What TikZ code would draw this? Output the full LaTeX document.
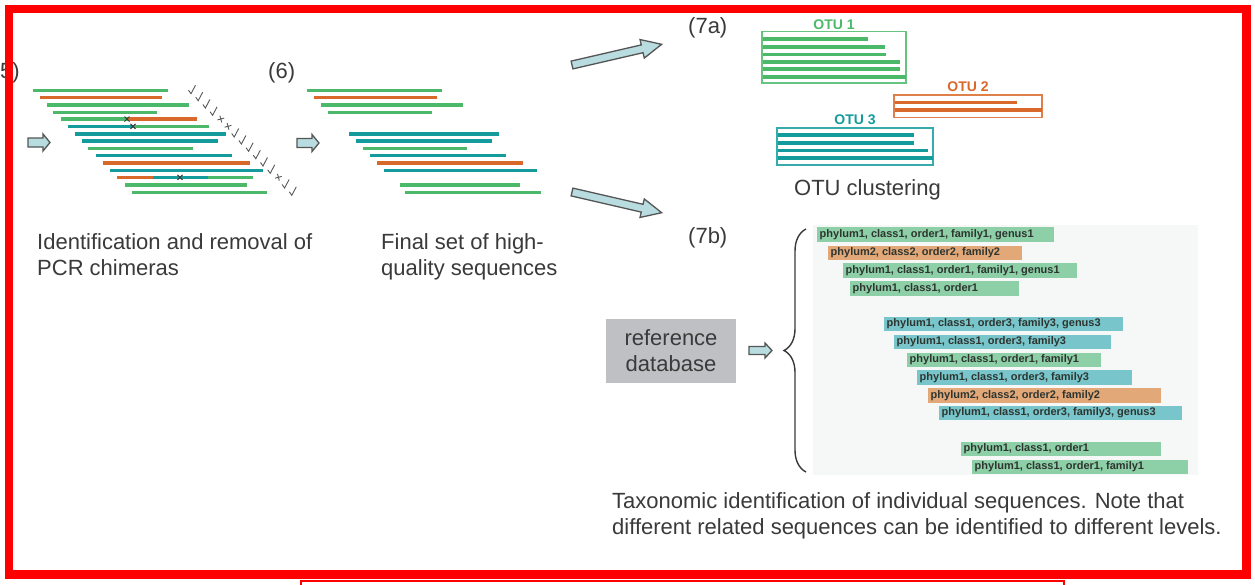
\documentclass[tikz,border=0pt]{standalone}
\usepackage{fontspec}
\setmainfont{Liberation Sans}
\usetikzlibrary{decorations.pathreplacing}
\definecolor{sg}{HTML}{4CB96A}
\definecolor{so}{HTML}{D9692A}
\definecolor{st}{HTML}{149C9C}
\definecolor{bg}{HTML}{8DCFA6}
\definecolor{bo}{HTML}{E3A878}
\definecolor{bt}{HTML}{78C6CB}
\definecolor{ink}{HTML}{3A3A3A}
\definecolor{barink}{HTML}{2E3530}
\definecolor{arrfill}{HTML}{B8DCE0}
\definecolor{arrline}{HTML}{555555}
\definecolor{dbgray}{HTML}{BFC0C4}
\definecolor{panel}{HTML}{F6F8F8}
\newcommand\taxbar[6]{\fill[#2] (#3,#5) rectangle (#4,#5+14.5);
  \node[bartext] (#1) at (#3+2.5,#5+7.4) {#6};}
\begin{document}
\begin{tikzpicture}[x=1pt,y=-1pt,
  txt/.style={font=\fontsize{22}{26}\selectfont, text=ink, inner sep=0pt},
  seq/.style={line width=3.2pt},
  chk/.style={draw=ink!85, line width=0.9pt},
  xm/.style={draw=ink, line width=1pt},
  arrowsty/.style={draw=arrline, fill=arrfill, line width=1.3pt, line join=miter},
  bartext/.style={anchor=west, inner sep=0pt, font=\bfseries\fontsize{11}{13}\selectfont, text=barink},
  otulab/.style={font=\bfseries\fontsize{14}{16}\selectfont, inner sep=0pt},
  otubox/.style={line width=1.5pt},
  otuline/.style={line width=3.6pt},
  pics/barrow/.style n args={4}{code={
    \draw[arrowsty] (0,-#1) -- ({#3-#4},-#1) -- ({#3-#4},-#2) -- (#3,0) -- ({#3-#4},#2) -- ({#3-#4},#1) -- (0,#1) -- cycle;}}
]
\useasboundingbox (0,0) rectangle (1255,584);
\fill[white] (0,0) rectangle (1255,584);

% ---------- (5) chimera removal ----------
\node[txt, anchor=base east] (l5) at (20,78) {(5)};
\pic at (28,142.5) {barrow={4.5}{8.5}{22}{7}};
\draw[seq, sg] (33,90.7) -- (168,90.7);
\draw[seq, so] (40,97.7) -- (162,97.7);
\draw[seq, sg] (47,105) -- (189,105);
\draw[seq, sg] (53,112.3) -- (157,112.3);
\draw[seq, sg] (61,119) -- (127,119);
\draw[seq, so] (127,119) -- (197,119);
\draw[seq, st] (68,126.3) -- (133,126.3);
\draw[seq, sg] (133,126.3) -- (209,126.3);
\draw[seq, st] (75,134) -- (226,134);
\draw[seq, st] (82,141) -- (218,141);
\draw[seq, sg] (88,148.3) -- (193,148.3);
\draw[seq, st] (96,155.7) -- (232,155.7);
\draw[seq, so] (103,163) -- (250,163);
\draw[seq, st] (110,170.3) -- (263,170.3);
\draw[seq, so] (117,177.3) -- (153,177.3);
\draw[seq, st] (153,177.3) -- (208,177.3);
\draw[seq, sg] (208,177.3) -- (253,177.3);
\draw[seq, sg] (125,185) -- (247,185);
\draw[seq, sg] (132,192.3) -- (267,192.3);
\foreach \p in {(127,119),(133,126.3),(180,177.3)}
  \draw[xm, shift={\p}] (-2.5,-2.5) -- (2.5,2.5) (-2.5,2.5) -- (2.5,-2.5);
\foreach \i/\y in {1/90.7,2/97.7,3/105,4/112.3,7/134,8/141,9/148.3,10/155.7,11/163,12/170.3,14/185,15/192.3}{
  \pgfmathsetmacro\xx{192+(\i-1)*7.2}
  \draw[chk] (\xx-3.5,\y-0.5) -- (\xx-1,\y+3) -- (\xx+3.5,\y-5.5);}
\foreach \i/\y in {5/119,6/126.3,13/177.3}{
  \pgfmathsetmacro\xx{192+(\i-1)*7.2}
  \draw[chk, shift={(\xx,\y)}, rotate=15] (-3.5,0) -- (3.5,0) (0,-3.5) -- (0,3.5);}
\node[txt, anchor=base west, align=left] (t5) at (37,275) {Identification and removal of\\PCR chimeras};

% ---------- (6) final set ----------
\node[txt, anchor=base west] (l6) at (268,78) {(6)};
\pic at (297,143) {barrow={4.5}{8.5}{22}{7}};
\draw[seq, sg] (307,90.7) -- (442,90.7);
\draw[seq, so] (314,97.7) -- (437,97.7);
\draw[seq, sg] (321,105) -- (463,105);
\draw[seq, sg] (328,112.3) -- (432,112.3);
\draw[seq, st] (349,134) -- (499,134);
\draw[seq, st] (356,141) -- (492,141);
\draw[seq, sg] (363,148.3) -- (467,148.3);
\draw[seq, st] (370,155.7) -- (506,155.7);
\draw[seq, so] (377,163) -- (523,163);
\draw[seq, st] (384,170.3) -- (537,170.3);
\draw[seq, sg] (400,185) -- (520,185);
\draw[seq, sg] (405,192.3) -- (541,192.3);
\node[txt, anchor=base west, align=left] (t6) at (381,275) {Final set of high-\\quality sequences};

% ---------- big arrows ----------
\pic[rotate=13] at (572,65) {barrow={4}{9.5}{92}{20}};
\pic[rotate=-13] at (572,192) {barrow={4}{9.5}{92}{20}};

% ---------- (7a) OTU clustering ----------
\node[txt, anchor=base west] (l7a) at (688,33) {(7a)};
\node[otulab, text=sg] (otu1) at (834,24.5) {OTU 1};
\draw[otubox, sg!85] (762,31.5) rectangle (906,83);
\foreach \y/\e in {39/868,46.7/885,54.3/886,61.7/900,69/900,76.7/906}
  \draw[otuline, sg] (763,\y) -- (\e,\y);
\node[otulab, text=so] (otu2) at (968,87) {OTU 2};
\draw[otubox, so!85] (894,95) rectangle (1042,117.5);
\foreach \y/\e in {102.3/1017,109.7/1042}
  \draw[otuline, so] (895,\y) -- (\e,\y);
\node[otulab, text=st] (otu3) at (855,120) {OTU 3};
\draw[otubox, st!85] (777,128) rectangle (933,165);
\foreach \y/\e in {135/914,142.7/914,150.3/928,157.7/933}
  \draw[otuline, st] (778,\y) -- (\e,\y);
\node[txt, anchor=base] (otuc) at (867.5,195) {OTU clustering};

% ---------- (7b) taxonomy ----------
\node[txt, anchor=base west] (l7b) at (688,243) {(7b)};
\node[txt, fill=dbgray, minimum width=130, minimum height=64, align=center] (db) at (671,351) {reference\\database};
\pic at (749,350.5) {barrow={4}{7.5}{23}{7}};
\fill[panel] (813,225) rectangle (1198,475);
\draw[ink, line width=1.4pt, decorate, decoration={brace, amplitude=22pt}] (806,472) -- (806,229);
\taxbar{b1}{bg}{817}{1054}{227}{phylum1, class1, order1, family1, genus1}
\taxbar{b2}{bo}{828}{1022}{245.5}{phylum2, class2, order2, family2}
\taxbar{b3}{bg}{843}{1077}{263}{phylum1, class1, order1, family1, genus1}
\taxbar{b4}{bg}{850}{1019}{281}{phylum1, class1, order1}
\taxbar{b5}{bt}{884}{1123}{316.5}{phylum1, class1, order3, family3, genus3}
\taxbar{b6}{bt}{894}{1111}{334.5}{phylum1, class1, order3, family3}
\taxbar{b7}{bg}{907}{1101}{352.5}{phylum1, class1, order1, family1}
\taxbar{b8}{bt}{917}{1132}{370}{phylum1, class1, order3, family3}
\taxbar{b9}{bo}{928}{1161}{388}{phylum2, class2, order2, family2}
\taxbar{b10}{bt}{939}{1182}{405.5}{phylum1, class1, order3, family3, genus3}
\taxbar{b11}{bg}{961}{1161}{441.5}{phylum1, class1, order1}
\taxbar{b12}{bg}{972}{1188}{459.5}{phylum1, class1, order1, family1}
\node[txt, anchor=base west, align=left] (t7b) at (612,534) {Taxonomic identification of individual sequences. Note that\\different related sequences can be identified to different levels.};

% ---------- frame ----------
\draw[red, line width=8.5pt] (9,9) rectangle (1246.5,574.5);
\draw[red, line width=1.5pt] (301,586) -- (301,581) -- (1064,581) -- (1064,586);
\end{tikzpicture}
\end{document}
